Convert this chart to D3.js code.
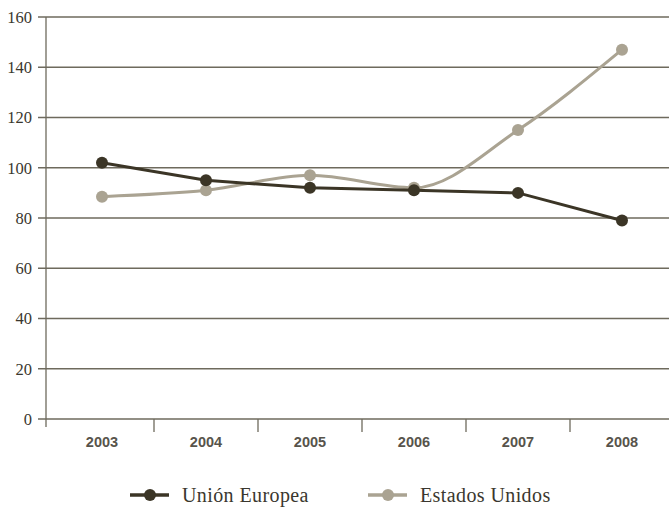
<!DOCTYPE html>
<html>
<head>
<meta charset="utf-8">
<script src="https://cdn.jsdelivr.net/npm/d3@7"></script>
<style>
  html, body { margin: 0; padding: 0; background: #fff; }
  svg { display: block; }
  .serif { font-family: "Liberation Serif", "DejaVu Serif", "Times New Roman", serif; }
  .sans { font-family: "Liberation Sans", Arial, sans-serif; }
</style>
</head>
<body>
<svg id="chart" width="669" height="508"></svg>
<script>
const years = ["2003", "2004", "2005", "2006", "2007", "2008"];
const unionEuropea = [102, 95, 92, 91, 90, 79];
const estadosUnidos = [88.5, 91, 97, 92, 115, 147];
const yTicks = [0, 20, 40, 60, 80, 100, 120, 140, 160];
const seriesNames = ["Unión Europea", "Estados Unidos"];

const colors = { ue: "#3b3526", us: "#aaa392", grid: "#6e6a5d", text: "#3a372e" };

const svg = d3.select("#chart");

const x = d3.scaleBand().domain(years).range([50, 674]);
const y = d3.scaleLinear().domain([0, 160]).range([419, 17]);

// horizontal gridlines with left tick marks
const yAxis = svg.append("g");
yAxis.selectAll("line.grid")
  .data(yTicks)
  .join("line")
  .attr("x1", 38).attr("x2", 669)
  .attr("y1", d => y(d)).attr("y2", d => y(d))
  .attr("stroke", colors.grid)
  .attr("stroke-width", 1.3);
yAxis.selectAll("text")
  .data(yTicks)
  .join("text")
  .attr("class", "serif")
  .attr("x", 32)
  .attr("y", d => y(d))
  .attr("dy", "0.35em")
  .attr("text-anchor", "end")
  .attr("font-size", 16.5)
  .attr("fill", colors.text)
  .text(d => d);

// vertical axis line
svg.append("line")
  .attr("x1", 46).attr("x2", 46)
  .attr("y1", y(160)).attr("y2", y(0) + 8)
  .attr("stroke", colors.grid)
  .attr("stroke-width", 1.3);

// category separators below the baseline
const xAxis = svg.append("g");
xAxis.selectAll("line.sep")
  .data(years.slice(1))
  .join("line")
  .attr("x1", d => x(d)).attr("x2", d => x(d))
  .attr("y1", y(0)).attr("y2", y(0) + 13)
  .attr("stroke", colors.grid)
  .attr("stroke-width", 1.3);
xAxis.selectAll("text")
  .data(years)
  .join("text")
  .attr("class", "sans")
  .attr("x", d => x(d) + x.bandwidth() / 2)
  .attr("y", 447)
  .attr("text-anchor", "middle")
  .attr("font-size", 14.5)
  .attr("font-weight", "bold")
  .attr("fill", "#57544b")
  .text(d => d);

const cx = d => x(d) + x.bandwidth() / 2;

function drawSeries(values, color, curve) {
  const pts = years.map((yr, i) => ({ year: yr, value: values[i] }));
  const line = d3.line()
    .x(d => cx(d.year))
    .y(d => y(d.value))
    .curve(curve);
  const g = svg.append("g");
  g.append("path")
    .datum(pts)
    .attr("d", line)
    .attr("fill", "none")
    .attr("stroke", color)
    .attr("stroke-width", 3);
  g.selectAll("circle")
    .data(pts)
    .join("circle")
    .attr("cx", d => cx(d.year))
    .attr("cy", d => y(d.value))
    .attr("r", 6)
    .attr("fill", color);
}

drawSeries(estadosUnidos, colors.us, d3.curveMonotoneX);
drawSeries(unionEuropea, colors.ue, d3.curveLinear);

// legend
const legend = svg.append("g");
const legendItems = [
  { name: seriesNames[0], color: colors.ue, x: 130 },
  { name: seriesNames[1], color: colors.us, x: 368 }
];
legendItems.forEach(item => {
  const g = legend.append("g").attr("transform", `translate(${item.x},495)`);
  g.append("line")
    .attr("x1", 0).attr("x2", 39).attr("y1", 0).attr("y2", 0)
    .attr("stroke", item.color).attr("stroke-width", 3.5);
  g.append("circle").attr("cx", 20).attr("cy", 0).attr("r", 6).attr("fill", item.color);
  g.append("text")
    .attr("class", "serif")
    .attr("x", 52).attr("y", 0).attr("dy", "0.35em")
    .attr("font-size", 20)
    .attr("letter-spacing", 0.4)
    .attr("fill", colors.text)
    .text(item.name);
});
</script>
</body>
</html>
